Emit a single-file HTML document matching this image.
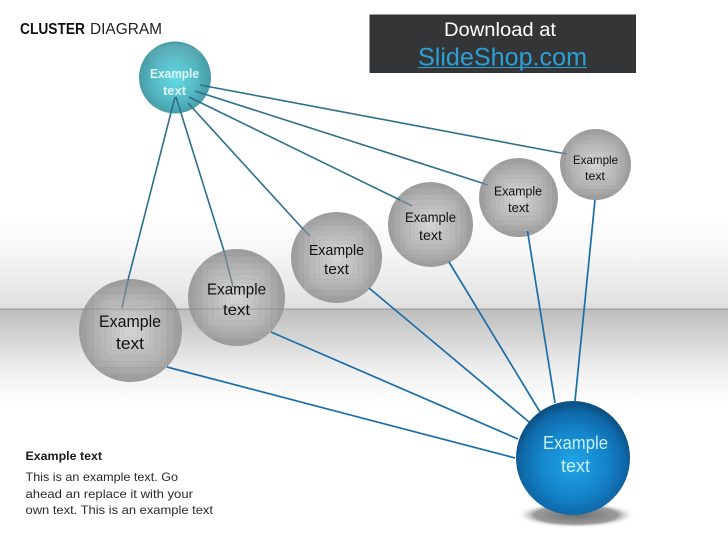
<!DOCTYPE html>
<html><head><meta charset="utf-8"><style>
html,body{margin:0;padding:0;background:#fff}
svg{display:block}
text{font-family:"Liberation Sans",sans-serif}
</style></head><body>
<svg width="728" height="546" viewBox="0 0 728 546" xmlns="http://www.w3.org/2000/svg">
<defs>
<linearGradient id="bgA" x1="0" y1="0" x2="0" y2="1">
<stop offset="0" stop-color="#fff"/><stop offset=".4" stop-color="#f6f6f6"/><stop offset=".8" stop-color="#e8e8e8"/><stop offset="1" stop-color="#dedede"/>
</linearGradient>
<linearGradient id="bgB" x1="0" y1="0" x2="0" y2="1">
<stop offset="0" stop-color="#bdbdbd"/><stop offset=".3" stop-color="#d4d4d4"/><stop offset=".6" stop-color="#ededed"/><stop offset="1" stop-color="#fff"/>
</linearGradient>
<radialGradient id="grey" cx=".5" cy=".5" r=".5">
<stop offset="0" stop-color="#c2c2c2"/><stop offset=".7" stop-color="#a9a9a9"/><stop offset="1" stop-color="#9b9b9b"/>
</radialGradient>
<radialGradient id="teal" cx=".5" cy=".52" r=".5">
<stop offset="0" stop-color="#63dbe6"/><stop offset=".6" stop-color="#55b9c4"/><stop offset="1" stop-color="#469ca6"/>
</radialGradient>
<linearGradient id="tealTop" x1="0" y1="0" x2="0" y2="1">
<stop offset="0" stop-color="#fff" stop-opacity=".1"/><stop offset="1" stop-color="#fff" stop-opacity="0"/>
</linearGradient>
<radialGradient id="blue" cx=".5" cy=".55" r=".52">
<stop offset="0" stop-color="#1fa6e6"/><stop offset=".55" stop-color="#1585cb"/><stop offset=".88" stop-color="#0f68a8"/><stop offset="1" stop-color="#0c5285"/>
</radialGradient>
<radialGradient id="shadow" cx=".5" cy=".5" r=".5">
<stop offset="0" stop-color="#6e6e6e"/><stop offset=".7" stop-color="#9c9c9c"/><stop offset="1" stop-color="#fff" stop-opacity="0"/>
</radialGradient>
<clipPath id="cc"><circle cx="50" cy="50" r="50"/></clipPath>
<symbol id="ball" viewBox="0 0 100 100">
<g clip-path="url(#cc)">
<rect width="100" height="100" fill="url(#grey)"/>
<g fill="#fff" fill-opacity=".05" stroke="#777" stroke-opacity=".16" stroke-width=".6">
<rect x="7" y="7" width="86" height="86"/>
<rect x="14" y="14" width="72" height="72"/>
<rect x="20" y="20" width="60" height="60"/>
<rect x="26" y="26" width="48" height="48"/>
<rect x="31" y="31" width="38" height="38"/>
<rect x="35" y="35" width="30" height="30"/>
<rect x="39" y="39" width="22" height="22"/>
<rect x="43" y="43" width="14" height="14"/>
</g>
</g>
</symbol>
</defs>

<rect width="728" height="546" fill="#fff"/>
<rect y="215" width="728" height="94" fill="url(#bgA)"/>
<rect y="309" width="728" height="95" fill="url(#bgB)"/>
<rect y="308.5" width="728" height="1.2" fill="#9b9b9b"/>

<!-- header banner -->
<rect x="369.5" y="14.5" width="266.5" height="58.5" fill="#343536"/>
<text x="444" y="36" font-size="19" fill="#fff" textLength="112" lengthAdjust="spacingAndGlyphs">Download at</text>
<text x="418" y="65.5" font-size="25" fill="#2aa0d8" textLength="169" lengthAdjust="spacingAndGlyphs">SlideShop.com</text>
<rect x="418" y="67" width="169" height="1" fill="#2aa0d8"/>

<text x="20" y="34" font-size="16" font-weight="bold" fill="#111" textLength="65" lengthAdjust="spacingAndGlyphs">CLUSTER</text>
<text x="90" y="34" font-size="16" fill="#222" textLength="72" lengthAdjust="spacingAndGlyphs">DIAGRAM</text>

<!-- grey balls -->
<use href="#ball" x="79" y="279" width="103" height="103"/>
<use href="#ball" x="188" y="249" width="97" height="97"/>
<use href="#ball" x="291" y="212" width="91" height="91"/>
<use href="#ball" x="388" y="182" width="85" height="85"/>
<use href="#ball" x="479" y="158" width="79" height="79"/>
<use href="#ball" x="560" y="129" width="71" height="71"/>
<g fill="#7d7d7d" opacity=".55">
<rect x="81" y="308.5" width="99" height="1"/>
<rect x="189" y="308.5" width="95" height="1"/>
</g>

<!-- top ball -->
<circle cx="175" cy="77.5" r="36" fill="url(#teal)"/>
<ellipse cx="175" cy="57" rx="27" ry="13" fill="url(#tealTop)"/>

<!-- shadow and blue ball -->
<ellipse cx="576" cy="515" rx="60" ry="13" fill="url(#shadow)"/>
<circle cx="573" cy="458" r="57" fill="url(#blue)"/>

<!-- top connectors -->
<g stroke="#2d6f8c" stroke-width="1.6" fill="none">
<line x1="200" y1="85" x2="561" y2="153"/>
<line x1="195" y1="91" x2="482" y2="183"/>
<line x1="189" y1="97" x2="400" y2="200"/>
<line x1="188" y1="103" x2="303" y2="229"/>
<line x1="176" y1="97" x2="224" y2="251"/>
<line x1="175" y1="97" x2="128" y2="280"/>
</g>
<g stroke="#64828f" stroke-width="1.4" fill="none">
<line x1="561" y1="153" x2="567" y2="154"/>
<line x1="482" y1="183" x2="488" y2="185"/>
<line x1="400" y1="200" x2="412" y2="206"/>
<line x1="303" y1="229" x2="310" y2="236"/>
<line x1="224" y1="251" x2="233" y2="287"/>
<line x1="128" y1="280" x2="122" y2="308"/>
</g>

<!-- bottom connectors -->
<g stroke="#1c6ea8" stroke-width="1.7" fill="none">
<line x1="595" y1="200" x2="575" y2="401"/>
<line x1="527.5" y1="231" x2="555" y2="403"/>
<line x1="449" y1="262" x2="540" y2="412"/>
<line x1="369" y1="288" x2="529" y2="422"/>
<line x1="271" y1="332" x2="518" y2="439"/>
<line x1="167" y1="367" x2="515" y2="458"/>
</g>

<!-- ball labels -->
<g fill="#111">
<text x="99" y="327" font-size="17" textLength="62" lengthAdjust="spacingAndGlyphs">Example</text>
<text x="116" y="349" font-size="17" textLength="28" lengthAdjust="spacingAndGlyphs">text</text>
<text x="207" y="294.5" font-size="16" textLength="59" lengthAdjust="spacingAndGlyphs">Example</text>
<text x="223" y="315" font-size="16" textLength="27" lengthAdjust="spacingAndGlyphs">text</text>
<text x="309" y="255" font-size="14.5" textLength="55" lengthAdjust="spacingAndGlyphs">Example</text>
<text x="324" y="274" font-size="14.5" textLength="25" lengthAdjust="spacingAndGlyphs">text</text>
<text x="405" y="222" font-size="14" textLength="51" lengthAdjust="spacingAndGlyphs">Example</text>
<text x="419" y="240" font-size="14" textLength="23" lengthAdjust="spacingAndGlyphs">text</text>
<text x="494" y="195.5" font-size="13" textLength="48" lengthAdjust="spacingAndGlyphs">Example</text>
<text x="508" y="212" font-size="13" textLength="21" lengthAdjust="spacingAndGlyphs">text</text>
<text x="573" y="164" font-size="12" textLength="45" lengthAdjust="spacingAndGlyphs">Example</text>
<text x="585" y="180" font-size="12" textLength="20" lengthAdjust="spacingAndGlyphs">text</text>
</g>
<g fill="#dcf6f7" font-weight="bold">
<text x="150" y="78" font-size="13" textLength="49" lengthAdjust="spacingAndGlyphs">Example</text>
<text x="163" y="95" font-size="13" textLength="23" lengthAdjust="spacingAndGlyphs">text</text>
</g>
<g fill="#c8effc">
<text x="543" y="449" font-size="18" textLength="65" lengthAdjust="spacingAndGlyphs">Example</text>
<text x="561" y="472" font-size="18" textLength="29" lengthAdjust="spacingAndGlyphs">text</text>
</g>

<!-- caption -->
<text x="25.5" y="460" font-size="12" font-weight="bold" fill="#1a1a1a" textLength="76.5" lengthAdjust="spacingAndGlyphs">Example text</text>
<g fill="#2a2a2a" font-size="12">
<text x="25.5" y="481" textLength="152.5" lengthAdjust="spacingAndGlyphs">This is an example text. Go</text>
<text x="25.5" y="498" textLength="167.5" lengthAdjust="spacingAndGlyphs">ahead an replace it with your</text>
<text x="25.5" y="514" textLength="187.5" lengthAdjust="spacingAndGlyphs">own text. This is an example text</text>
</g>
</svg>
</body></html>
